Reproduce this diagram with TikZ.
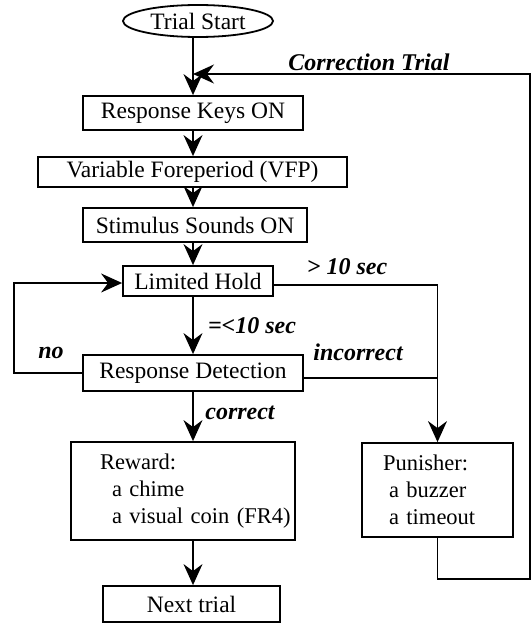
\documentclass[tikz,border=0pt]{standalone}
\usepackage{fontspec}
\setmainfont{Liberation Serif}
\usetikzlibrary{arrows.meta,shapes.geometric}
\newcommand{\chartfont}{\fontsize{23.5}{27}\selectfont}
\newcommand{\notefont}{\fontsize{24}{27}\selectfont}
\tikzset{
	stepbox/.style={draw, line width=1.8pt, inner sep=0pt, font=\chartfont},
	listbox/.style={stepbox, inner xsep=4pt, align=left, font=\fontsize{22.5}{27}\selectfont},
	flow/.style={line width=1.5pt},
	arr/.style={flow, -{Stealth[length=21pt, width=19pt, inset=7pt]}},
	lbl/.style={font=\notefont\bfseries\itshape, inner sep=0pt}
}
\begin{document}
\begin{tikzpicture}[x=1pt, y=-1pt]
	\useasboundingbox (0,0) rectangle (531,623);
	% boxes of the trial
	\node[stepbox, ellipse, minimum width=150pt, minimum height=32pt] (start) at (198,21) {Trial Start};
	\node[stepbox, minimum width=220pt, minimum height=34pt] (keys) at (193,113) {Response Keys ON};
	\node[stepbox, minimum width=309pt, minimum height=30pt] (vfp) at (192.5,172) {Variable Foreperiod (VFP)};
	\node[stepbox, minimum width=224pt, minimum height=34pt] (stim) at (195,225) {Stimulus Sounds ON};
	\node[stepbox, minimum width=150pt, minimum height=30pt] (hold) at (198,281) {Limited Hold};
	\node[stepbox, minimum width=220pt, minimum height=36pt] (detect) at (193,373) {Response Detection};
	\node[listbox, minimum height=98pt, text width=216pt] (reward) at (183,491)
		{\hspace*{25pt}Reward:\\ \hspace*{37pt}a chime\\ \hspace*{37pt}\mbox{a visual coin (FR4)}};
	\node[listbox, minimum height=94pt, text width=143pt] (punish) at (437.5,490)
		{\hspace*{17pt}Punisher:\\ \hspace*{23pt}a buzzer\\ \hspace*{23pt}a timeout};
	\node[stepbox, minimum width=177pt, minimum height=36pt] (next) at (191.5,604) {Next trial};
	% corners of the connectors
	\coordinate (join) at (193,74);
	\coordinate (back) at (14,283);
	\coordinate (turn) at (530,579);
	% labels
	\node[lbl] (corrlbl) at (369,62) {Correction Trial};
	\node[lbl] (longlbl) at (347,267) {> 10 sec};
	\node[lbl] (shortlbl) at (252,326) {=<10 sec};
	\node[lbl] (nolbl) at (51,353) {no};
	\node[lbl] (badlbl) at (358,352) {incorrect};
	\node[lbl] (goodlbl) at (240,413) {correct};
	% connectors
	\draw[arr] (start.south -| keys.north) -- (keys.north);
	\draw[arr] (keys.south) -- (vfp.north -| keys.south);
	\draw[arr] (vfp.south -| keys.south) -- (stim.north -| keys.south);
	\draw[arr] (stim.south -| keys.south) -- (hold.north -| keys.south);
	\draw[arr] (hold.south -| keys.south) -- (detect.north);
	\draw[arr] (detect.west) -| (back) -- (back -| hold.west);
	\draw[arr] ([yshift=-4pt]hold.east) -| (punish.north);
	\draw[flow] ([yshift=-5pt]detect.east) -- ([yshift=-5pt]detect.east -| punish.north);
	\draw[arr] (detect.south) -- (reward.north -| detect.south);
	\draw[arr] (reward.south -| detect.south) -- (next.north -| detect.south);
	\draw[arr] (punish.south) |- (turn) |- (join);
\end{tikzpicture}
\end{document}
